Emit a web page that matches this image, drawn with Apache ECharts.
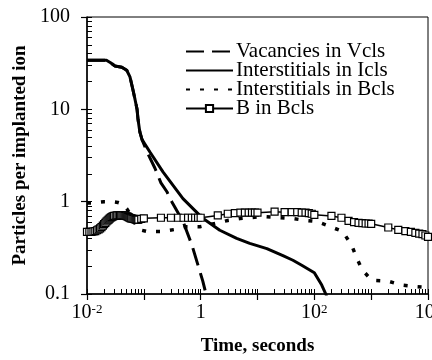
<!DOCTYPE html>
<html>
<head>
<meta charset="utf-8">
<script src="https://cdn.jsdelivr.net/npm/echarts@6/dist/echarts.min.js"></script>
<style>
  html, body { margin: 0; padding: 0; background: #fff; }
  #chart-container { width: 432px; height: 360px; }
</style>
</head>
<body>
<div id="chart-container"></div>
<script>
var seriesNames = ['Vacancies in Vcls', 'Interstitials in Icls', 'Interstitials in Bcls', 'B in Bcls'];

// Interstitials in Icls (solid)
var iclsTime  = [0.01, 0.022, 0.026, 0.031, 0.041, 0.05, 0.057, 0.064, 0.07, 0.076, 0.079, 0.085, 0.093, 0.128, 0.217, 0.488, 1.09, 2.17, 4.3, 7.3, 14.6, 28, 42, 60, 100, 135, 165];
var iclsValue = [34, 34, 32, 29.5, 28.5, 26.5, 22.5, 16.5, 12.8, 10, 7.8, 5.7, 4.7, 3.45, 2.1, 1.08, 0.66, 0.49, 0.4, 0.353, 0.31, 0.26, 0.232, 0.205, 0.17, 0.125, 0.095];

// Vacancies in Vcls (dashed)
var vclsTime  = [0.01, 0.022, 0.026, 0.031, 0.041, 0.05, 0.057, 0.064, 0.07, 0.076, 0.079, 0.085, 0.093, 0.113, 0.157, 0.2, 0.255, 0.31, 0.49, 0.7, 1.09, 1.24, 1.35];
var vclsValue = [34, 34, 32, 29.5, 28.5, 26.5, 22.5, 16.5, 12.8, 10, 7.8, 5.7, 4.7, 3.5, 2.3, 1.6, 1.28, 1.0, 0.61, 0.34, 0.138, 0.1, 0.085];

// Interstitials in Bcls (dotted)
var bclsITime  = [0.01, 0.012, 0.015, 0.02, 0.027, 0.035, 0.041, 0.05, 0.057, 0.068, 0.079, 0.113, 0.21, 0.35, 0.57, 0.97, 3.0, 4.9, 12.4, 42, 73, 110, 186, 316, 454, 579, 705, 1020, 1950, 3440, 6310, 10000];
var bclsIValue = [0.97, 0.97, 0.98, 1.0, 1.0, 0.98, 0.95, 0.84, 0.74, 0.6, 0.5, 0.475, 0.475, 0.5, 0.535, 0.535, 0.625, 0.656, 0.69, 0.656, 0.625, 0.61, 0.54, 0.475, 0.336, 0.232, 0.181, 0.141, 0.138, 0.125, 0.12, 0.118];

// B in Bcls (line with open squares)
var bTime  = [0.010, 0.011, 0.012, 0.013, 0.014, 0.015, 0.016, 0.017, 0.018, 0.019, 0.020, 0.021, 0.022, 0.023, 0.024, 0.025, 0.026, 0.027, 0.028, 0.029,
              0.030, 0.032, 0.034, 0.036, 0.038, 0.040, 0.042, 0.044, 0.046, 0.048, 0.050, 0.052, 0.054, 0.056, 0.058, 0.060, 0.063, 0.066, 0.069, 0.072, 0.075, 0.078, 0.080, 0.090,
              0.1, 0.2, 0.3, 0.4, 0.5, 0.6, 0.7, 0.8, 0.9,
              1, 2, 3, 4, 5, 6, 7, 8, 9,
              10, 20, 30, 40, 50, 60, 70, 80, 90,
              100, 200, 300, 400, 500, 600, 700, 800, 900,
              1000, 2000, 3000, 4000, 5000, 6000, 7000, 8000, 9000, 10000];
var bValue = [0.47, 0.47, 0.47, 0.475, 0.48, 0.49, 0.50, 0.515, 0.53, 0.55, 0.57, 0.59, 0.61, 0.625, 0.64, 0.655, 0.67, 0.68, 0.69, 0.695,
              0.70, 0.705, 0.71, 0.71, 0.71, 0.71, 0.71, 0.71, 0.705, 0.70, 0.695, 0.69, 0.68, 0.67, 0.665, 0.66, 0.655, 0.65, 0.645, 0.64, 0.64, 0.64, 0.64, 0.65,
              0.66, 0.67, 0.67, 0.67, 0.67, 0.67, 0.67, 0.67, 0.67,
              0.67, 0.71, 0.74, 0.75, 0.76, 0.76, 0.76, 0.76, 0.76,
              0.76, 0.78, 0.77, 0.77, 0.77, 0.76, 0.76, 0.75, 0.74,
              0.72, 0.7, 0.67, 0.62, 0.6, 0.59, 0.585, 0.58, 0.58,
              0.575, 0.525, 0.495, 0.48, 0.47, 0.46, 0.45, 0.445, 0.43, 0.415];

var xLabels = { '-2': '10{s|-2}', '0': '1', '2': '10{s|2}', '4': '10{s|4}' };
var yLabels = { '-1': '0.1', '0': '1', '1': '10', '2': '100' };

function pairs(t, v) {
  return t.map(function (x, i) { return [x, v[i]]; });
}

// tick positions (log10 space) for k = 1..10 in each decade
function decadeTicks(lo, hi) {
  var out = [];
  for (var d = lo; d < hi; d++) {
    for (var k = 1; k <= 10; k++) out.push(d + Math.log10(k));
  }
  return out;
}

var serif = "'Liberation Serif', 'Times New Roman', serif";

var chartDom = document.getElementById('chart-container');
var myChart = echarts.init(chartDom);

option = {
  animation: false,
  backgroundColor: '#fff',
  textStyle: { fontFamily: serif, color: '#000' },
  grid: {
    left: 87, right: 4, top: 17, bottom: 66,
    containLabel: false,
    outerBoundsMode: 'none',
    show: true, borderColor: '#000', borderWidth: 1
  },
  legend: {
    orient: 'vertical',
    left: 185,
    top: 41,
    padding: 0,
    itemWidth: 47,
    itemHeight: 9,
    itemGap: -2,
    textStyle: { fontFamily: serif, fontSize: 21, color: '#000', lineHeight: 19, padding: [0, 0, 0, -2] },
    data: seriesNames
  },
  xAxis: [
    {
      type: 'log',
      logBase: 10,
      min: 0.01,
      max: 10000,
      interval: 1,
      name: 'Time, seconds',
      nameLocation: 'middle',
      nameGap: 43,
      nameMoveOverlap: false,
      nameTextStyle: { fontFamily: serif, fontSize: 19, fontWeight: 'bold', color: '#000' },
      axisLine: { onZero: false, lineStyle: { color: '#000', width: 1.5 } },
      axisTick: { show: true, inside: false, length: 6, lineStyle: { color: '#000', width: 1.2 } },
      splitLine: { show: false },
      axisLabel: {
        margin: 9,
        fontFamily: serif,
        fontSize: 20,
        color: '#000',
        formatter: function (v) {
          var k = String(Math.round(Math.log10(v)));
          return xLabels[k] || '';
        },
        rich: {
          s: { fontFamily: serif, fontSize: 13, verticalAlign: 'top', color: '#000' }
        }
      }
    },
    {
      // decoration axis for the inward minor ticks (log10 units)
      type: 'value',
      min: -2,
      max: 4,
      position: 'bottom',
      axisLine: { show: false, onZero: false },
      axisLabel: { show: false },
      splitLine: { show: false },
      axisTick: { show: true, inside: true, length: 5, customValues: decadeTicks(-2, 4), lineStyle: { color: '#000', width: 1 } }
    }
  ],
  yAxis: [
    {
      type: 'log',
      logBase: 10,
      min: 0.1,
      max: 100,
      interval: 1,
      name: 'Particles per implanted ion',
      nameLocation: 'middle',
      nameGap: 57,
      nameMoveOverlap: false,
      nameTextStyle: { fontFamily: serif, fontSize: 19, fontWeight: 'bold', color: '#000' },
      axisLine: { onZero: false, lineStyle: { color: '#000', width: 1.5 } },
      axisTick: { show: true, inside: false, length: 6, lineStyle: { color: '#000', width: 1.2 } },
      splitLine: { show: false },
      axisLabel: {
        margin: 17,
        fontFamily: serif,
        fontSize: 20,
        color: '#000',
        formatter: function (v) {
          var k = String(Math.round(Math.log10(v)));
          return yLabels[k] || '';
        }
      }
    },
    {
      type: 'value',
      min: -1,
      max: 2,
      position: 'left',
      axisLine: { show: false, onZero: false },
      axisLabel: { show: false },
      splitLine: { show: false },
      axisTick: { show: true, inside: true, length: 5, customValues: decadeTicks(-1, 2), lineStyle: { color: '#000', width: 1 } }
    }
  ],
  series: [
    {
      name: seriesNames[0],
      type: 'line',
      symbol: 'none',
      clip: true,
      lineStyle: { color: '#000', width: 3, type: [18, 8] },
      itemStyle: { color: 'rgba(0,0,0,0)' },
      data: pairs(vclsTime, vclsValue),
      z: 3
    },
    {
      name: seriesNames[1],
      type: 'line',
      symbol: 'none',
      clip: true,
      lineStyle: { color: '#000', width: 3 },
      itemStyle: { color: 'rgba(0,0,0,0)' },
      data: pairs(iclsTime, iclsValue),
      z: 4
    },
    {
      name: seriesNames[2],
      type: 'line',
      symbol: 'none',
      clip: true,
      lineStyle: { color: '#000', width: 3.5, type: [4, 10], cap: 'butt' },
      itemStyle: { color: 'rgba(0,0,0,0)' },
      data: pairs(bclsITime, bclsIValue),
      z: 2
    },
    {
      name: seriesNames[3],
      type: 'line',
      symbol: 'rect',
      symbolSize: 7,
      showAllSymbol: true,
      clip: true,
      lineStyle: { color: '#000', width: 1.5 },
      itemStyle: { color: '#fff', borderColor: '#000', borderWidth: 1.2 },
      data: pairs(bTime, bValue),
      z: 5
    }
  ]
};

option && myChart.setOption(option);
</script>
</body>
</html>
